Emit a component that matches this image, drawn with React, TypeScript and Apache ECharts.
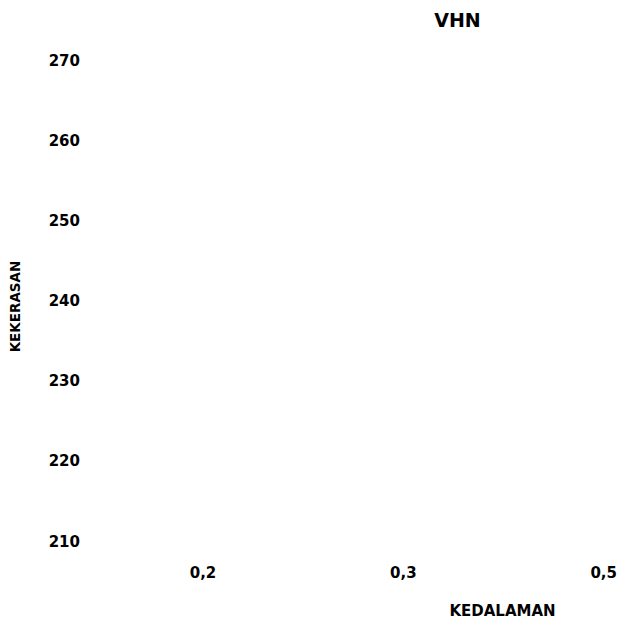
import React, { useEffect, useRef } from "react";
import * as echarts from "echarts";

const categories = ["0,2", "0,3", "0,5"];
const yTicks = [210, 220, 230, 240, 250, 260, 270];
const vhnValues: (number | null)[] = [null, null, null];
const titleText = "VHN";
const xName = "KEDALAMAN";
const yName = "KEKERASAN";

const FONT = "'DejaVu Sans', Verdana, sans-serif";

export default function App() {
  const ref = useRef<HTMLDivElement>(null);
  useEffect(() => {
    if (!ref.current) return;
    const chart = echarts.init(ref.current, null, { renderer: "svg" });
    chart.setOption({
      animation: false,
      backgroundColor: "#ffffff",
      title: {
        text: titleText,
        left: 452.5,
        top: 5,
        textAlign: "center",
        textStyle: { fontFamily: FONT, fontWeight: "bold", fontSize: 19, color: "#000" },
      },
      grid: { left: 203, top: 60.5, right: 15.5, bottom: 79.5, containLabel: false },
      xAxis: {
        type: "category",
        data: categories,
        boundaryGap: false,
        axisLine: { show: false },
        axisTick: { show: false },
        splitLine: { show: false },
        axisLabel: {
          margin: 24,
          fontFamily: FONT,
          fontWeight: "bold",
          fontSize: 15,
          color: "#000",
        },
      },
      yAxis: {
        type: "value",
        min: yTicks[0],
        max: yTicks[yTicks.length - 1],
        interval: 10,
        axisLine: { show: false },
        axisTick: { show: false },
        splitLine: { show: false },
        axisLabel: {
          margin: 123,
          fontFamily: FONT,
          fontWeight: "bold",
          fontSize: 15,
          color: "#000",
        },
      },
      graphic: [
        {
          type: "text",
          x: 502.5,
          y: 610.5,
          style: {
            text: xName,
            fontFamily: FONT,
            fontWeight: "bold",
            fontSize: 15,
            fill: "#000",
            textAlign: "center",
            textVerticalAlign: "middle",
          },
        },
        {
          type: "text",
          x: 14.5,
          y: 306.5,
          rotation: Math.PI / 2,
          style: {
            text: yName,
            fontFamily: FONT,
            fontWeight: "bold",
            fontSize: 13.5,
            fill: "#000",
            textAlign: "center",
            textVerticalAlign: "middle",
          },
        },
      ],
      series: [
        {
          type: "line",
          name: titleText,
          data: vhnValues,
          showSymbol: false,
          lineStyle: { width: 0 },
        },
      ],
    });
    return () => chart.dispose();
  }, []);
  return (
    <div
      ref={ref}
      style={{ position: "fixed", left: 0, top: 0, width: 620, height: 621, background: "#fff" }}
    />
  );
}
